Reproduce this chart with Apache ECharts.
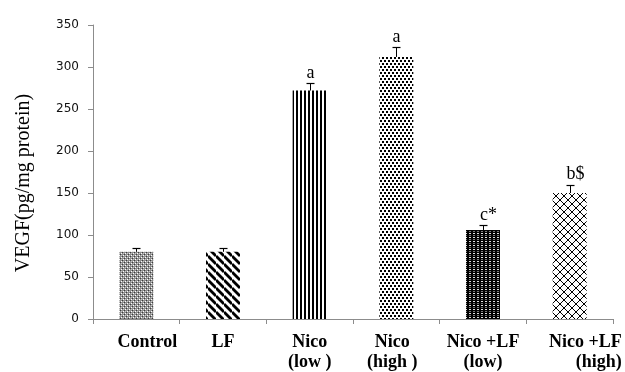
<!DOCTYPE html>
<html><head><meta charset="utf-8">
<script src="https://cdn.jsdelivr.net/npm/echarts@6/dist/echarts.min.js"></script>
<style>html,body{margin:0;padding:0;background:#fff}#c{width:625px;height:372px}</style>
</head><body><div id="c"></div>
<script>
// ---- data ----
const categories = ['Control', 'LF', 'Nico\n(low )', 'Nico\n(high )', 'Nico +LF\n(low)', 'Nico +LF\n(high)'];
const values = [80, 80, 272, 312, 106, 150];
const errors = [5, 5, 9, 12, 6, 10];
const annotations = ['', '', 'a', 'a', 'c*', 'b$'];
const yMin = 0, yMax = 350, yStep = 50;

// ---- patterns ----
function tile(w, h, bg, draw) {
  const c = document.createElement('canvas');
  c.width = w; c.height = h;
  const g = c.getContext('2d');
  g.fillStyle = bg; g.fillRect(0, 0, w, h);
  draw(g);
  return c;
}
const patterns = [
  tile(4, 4, '#8e8e8e', g => { g.fillStyle = '#3c3c3c'; g.fillRect(0, 2, 1, 1); g.fillRect(2, 0, 1, 1); g.fillStyle = '#fff'; g.fillRect(1, 1, 1, 1); g.fillRect(3, 3, 1, 1); g.fillStyle = '#c8c8c8'; g.fillRect(1, 3, 1, 1); g.fillRect(3, 1, 1, 1); }),
  tile(8, 8, '#fff', g => { g.strokeStyle = '#000'; g.lineWidth = 2.8; for (let k = -1; k <= 1; k++) { g.beginPath(); g.moveTo(0, k * 8); g.lineTo(8, 8 + k * 8); g.stroke(); } }),
  tile(4, 2, '#fff', g => { g.fillStyle = '#000'; g.fillRect(0, 0, 2, 2); }),
  tile(4, 6, '#fff', g => { g.fillStyle = '#000'; g.fillRect(0, 0, 2, 2); g.fillRect(2, 3, 2, 2); }),
  tile(4, 4, '#000', g => { g.fillStyle = '#e0e0e0'; g.fillRect(1, 1, 2, 1); g.fillStyle = '#7a7a7a'; g.fillRect(1, 3, 2, 1); }),
  tile(8, 8, '#fff', g => { g.strokeStyle = '#000'; g.lineWidth = 1; g.beginPath(); g.moveTo(0, 0); g.lineTo(8, 8); g.moveTo(8, 0); g.lineTo(0, 8); g.stroke(); })
];

// label tweaks (layout only)
const labelPad = [[0, 0, 0, 22], null, null, [0, 8, 0, 0], null, [0, 0, 0, 28]];

const chart = echarts.init(document.getElementById('c'), null, { renderer: 'canvas' });
const option = {
  animation: false,
  backgroundColor: '#fff',
  grid: { left: 93, right: 12, top: 25, bottom: 52 },
  xAxis: {
    type: 'category',
    data: categories.map((c, i) => {
      const item = { value: c };
      const ts = {};
      if (labelPad[i]) ts.padding = labelPad[i];
      if (i === 5) ts.rich = { r: { width: 76, align: 'right', fontFamily: '"Liberation Serif"', fontWeight: 'bold', fontSize: 18, lineHeight: 20, color: '#000' } };
      item.textStyle = ts;
      return item;
    }),
    axisLine: { lineStyle: { color: '#8c8c8c', width: 1 } },
    axisTick: { show: true, alignWithLabel: false, length: 5, lineStyle: { color: '#8c8c8c' } },
    axisLabel: {
      interval: 0, margin: 13, color: '#000',
      fontFamily: '"Liberation Serif"', fontWeight: 'bold', fontSize: 18, lineHeight: 20,
      formatter: (v, i) => i === 5 ? v.split('\n').map(s => '{r|' + s + '}').join('\n') : v
    }
  },
  yAxis: {
    type: 'value', min: yMin, max: yMax, interval: yStep,
    splitLine: { show: false },
    axisLine: { show: true, lineStyle: { color: '#8c8c8c', width: 1 } },
    axisTick: { show: true, length: 5, lineStyle: { color: '#8c8c8c' } },
    axisLabel: { margin: 14, color: '#111', fontFamily: '"DejaVu Sans"', fontSize: 12 }
  },
  graphic: [{
    type: 'text', x: 24, y: 183, rotation: Math.PI / 2,
    style: { text: 'VEGF(pg/mg protein)', font: '20px "Liberation Serif"', fill: '#000', textAlign: 'center', textVerticalAlign: 'middle' }
  }],
  series: [
    {
      type: 'bar', barWidth: 34,
      data: values.map((v, i) => ({ value: v, itemStyle: { color: { image: patterns[i], repeat: 'repeat' } } }))
    },
    {
      type: 'custom', z: 5, clip: false,
      data: values.map((v, i) => [i, v, errors[i]]),
      encode: { x: 0, y: 1 },
      renderItem: (params, api) => {
        const i = api.value(0), v = api.value(1), e = api.value(2);
        const b = api.coord([i, v]), t = api.coord([i, v + e]);
        const x = Math.round(b[0]) + 0.5;
        const ty = Math.round(t[1]) + 0.5;
        const ch = [
          { type: 'line', shape: { x1: x, y1: b[1], x2: x, y2: ty }, style: { stroke: '#000', lineWidth: 1 } },
          { type: 'line', shape: { x1: x - 4, y1: ty, x2: x + 4, y2: ty }, style: { stroke: '#000', lineWidth: 1.2 } }
        ];
        const a = annotations[params.dataIndex];
        if (a) ch.push({ type: 'text', x: x + (a.length > 1 ? 5 : 0), y: t[1] - 1,
          style: { text: a, font: '18px "Liberation Serif"', fill: '#000', textAlign: 'center', textVerticalAlign: 'bottom' } });
        return { type: 'group', children: ch };
      }
    }
  ]
};
chart.setOption(option);
</script>
</body></html>
